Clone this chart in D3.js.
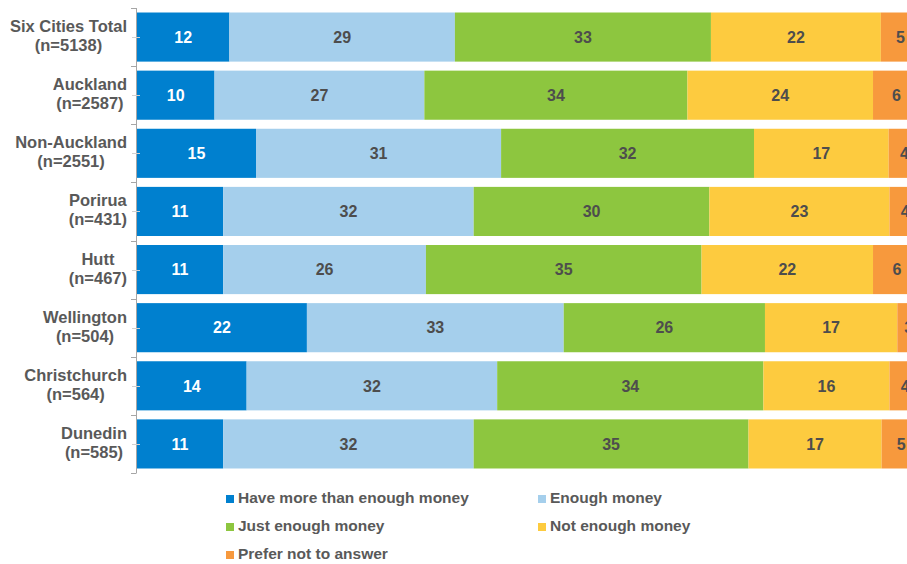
<!DOCTYPE html>
<html>
<head>
<meta charset="utf-8">
<script src="https://cdn.jsdelivr.net/npm/d3@7"></script>
<style>
  body { margin: 0; background: #fff; }
  svg { display: block; font-family: "Liberation Sans", Arial, sans-serif; }
</style>
</head>
<body>
<div id="chart"></div>
<script>
// categories (top to bottom) and their sample sizes
var cities = ["Six Cities Total", "Auckland", "Non-Auckland", "Porirua", "Hutt", "Wellington", "Christchurch", "Dunedin"];
var sampleSizes = ["(n=5138)", "(n=2587)", "(n=2551)", "(n=431)", "(n=467)", "(n=504)", "(n=564)", "(n=585)"];

// percentages per answer
var moreThanEnough = [11.8, 9.9, 15.2, 11.0, 11.0, 21.7, 14.0, 11.0];
var enough = [28.8, 26.8, 31.3, 32.0, 25.9, 32.8, 32.0, 32.0];
var justEnough = [32.7, 33.6, 32.3, 30.1, 35.2, 25.7, 34.0, 35.1];
var notEnough = [21.7, 23.7, 17.2, 23.0, 21.9, 16.9, 16.1, 17.0];
var preferNot = [5.0, 6.0, 4.0, 4.0, 6.1, 2.9, 4.0, 5.0];

var seriesNames = ["Have more than enough money", "Enough money", "Just enough money", "Not enough money", "Prefer not to answer"];
var seriesColors = ["#0080cf", "#a5cfec", "#8dc63f", "#fdcb3f", "#f7993d"];
var seriesValues = [moreThanEnough, enough, justEnough, notEnough, preferNot];

var width = 907, height = 564;
var svg = d3.select("#chart").append("svg")
  .attr("width", width).attr("height", height);

// the 100% end lies just past the right edge, as in the original
var x = d3.scaleLinear().domain([0, 100]).range([137, 920]);
var y = d3.scaleBand().domain(cities).range([8, 473])
  .paddingInner(0.155).paddingOuter(0.0775);
var color = d3.scaleOrdinal().domain(seriesNames).range(seriesColors);

// build stacked rows
var rows = cities.map(function(c, i) {
  var r = { city: c };
  seriesNames.forEach(function(s, k) { r[s] = seriesValues[k][i]; });
  return r;
});
var stacked = d3.stack().keys(seriesNames)(rows);

var layers = svg.append("g").selectAll("g")
  .data(stacked).enter().append("g")
  .attr("fill", function(d) { return color(d.key); });

layers.selectAll("rect")
  .data(function(d) { return d; })
  .enter().append("rect")
  .attr("x", function(d) { return x(d[0]); })
  .attr("y", function(d) { return y(d.data.city); })
  .attr("width", function(d) { return x(d[1]) - x(d[0]); })
  .attr("height", y.bandwidth());

layers.selectAll("text")
  .data(function(d) { return d.map(function(v) { v.key = d.key; return v; }); })
  .enter().append("text")
  .attr("x", function(d) { return (x(d[0]) + x(d[1])) / 2; })
  .attr("y", function(d) { return y(d.data.city) + y.bandwidth() / 2; })
  .attr("dy", "0.36em")
  .attr("text-anchor", "middle")
  .style("font-size", "16px")
  .style("font-weight", "bold")
  .attr("fill", function(d) { return d.key == seriesNames[0] ? "#ffffff" : "#4d4d4d"; })
  .text(function(d) { return d3.format(".0f")(d[1] - d[0]); });

// axis line with ticks at boundaries and band centres
var axis = svg.append("g").attr("stroke", "#a6a6a6").attr("stroke-width", 1);
axis.append("line")
  .attr("x1", 136.5).attr("x2", 136.5)
  .attr("y1", y.range()[0]).attr("y2", y.range()[1]);
var bounds = cities.map(function(c) { return y(c) - (y.step() - y.bandwidth()) / 2; });
bounds.push(y.range()[1]);
axis.selectAll("line.edge").data(bounds).enter().append("line")
  .attr("class", "edge")
  .attr("x1", 131).attr("x2", 136.5)
  .attr("y1", function(d) { return Math.round(d) + 0.5; })
  .attr("y2", function(d) { return Math.round(d) + 0.5; });
axis.selectAll("line.mid").data(cities).enter().append("line")
  .attr("class", "mid")
  .attr("stroke", "#d0d0d0")
  .attr("x1", 132).attr("x2", 140)
  .attr("y1", function(d) { return Math.round(y(d) + y.bandwidth() / 2) + 0.5; })
  .attr("y2", function(d) { return Math.round(y(d) + y.bandwidth() / 2) + 0.5; });

// category labels: block right aligned, lines centred in block
var labels = svg.append("g").selectAll("g")
  .data(cities).enter().append("g");
labels.each(function(c, i) {
  var g = d3.select(this);
  var cy = y(c) + y.bandwidth() / 2;
  var t1 = g.append("text").attr("y", cy - 5).text(c);
  var t2 = g.append("text").attr("y", cy + 14).text(sampleSizes[i]);
  g.selectAll("text")
    .attr("text-anchor", "middle")
    .style("font-size", "16.5px")
    .style("font-weight", "bold")
    .attr("fill", "#595959");
  var w = Math.max(t1.node().getComputedTextLength(), t2.node().getComputedTextLength());
  g.selectAll("text").attr("x", 127 - w / 2);
});

// legend
var legendCols = [226, 538];
var legend = svg.append("g").selectAll("g")
  .data(seriesNames).enter().append("g")
  .attr("transform", function(d, i) {
    return "translate(" + legendCols[i % 2] + "," + (503 + Math.floor(i / 2) * 28) + ")";
  });
legend.append("rect")
  .attr("x", 0).attr("y", -8)
  .attr("width", 8).attr("height", 8)
  .attr("fill", function(d) { return color(d); });
legend.append("text")
  .attr("x", 12).attr("y", 0)
  .style("font-size", "15.5px")
  .style("font-weight", "bold")
  .attr("fill", "#595959")
  .text(function(d) { return d; });
</script>
</body>
</html>
